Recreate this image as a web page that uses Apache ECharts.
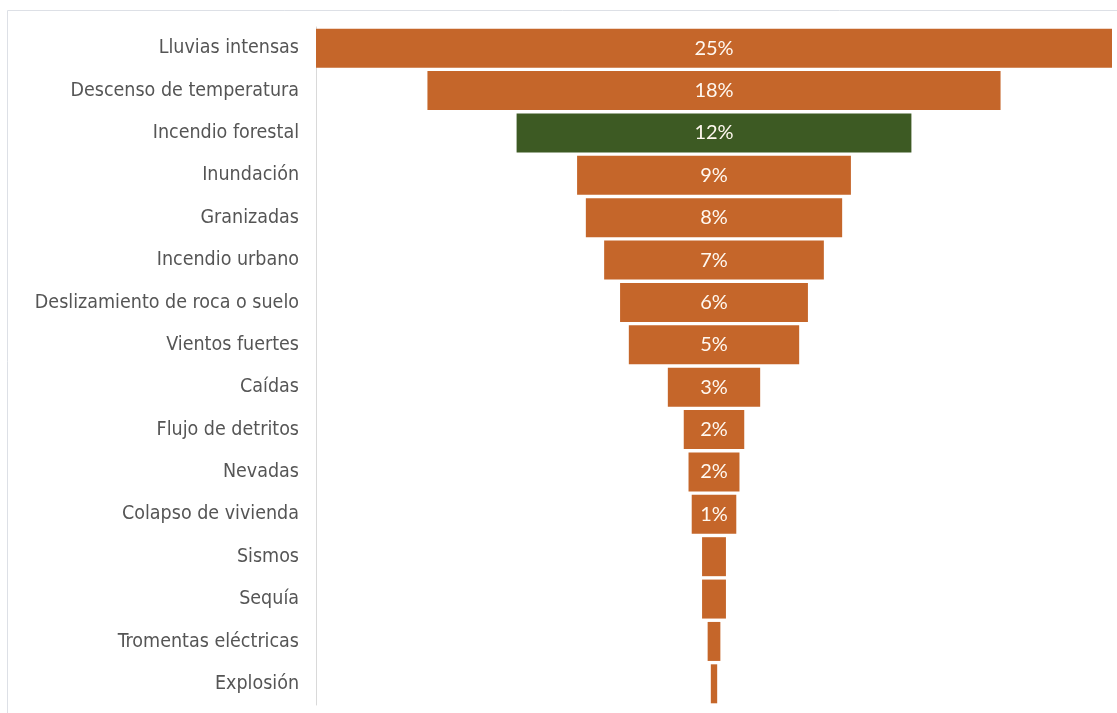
<!DOCTYPE html>
<html>
<head>
<meta charset="utf-8">
<script src="https://cdn.jsdelivr.net/npm/echarts@6/dist/echarts.min.js"></script>
<style>
  html, body { margin: 0; padding: 0; background: #fff; }
  #main { width: 1117px; height: 713px; }
</style>
</head>
<body>
<div id="main"></div>
<script>
const categories = [
  'Lluvias intensas', 'Descenso de temperatura', 'Incendio forestal', 'Inundación',
  'Granizadas', 'Incendio urbano', 'Deslizamiento de roca o suelo', 'Vientos fuertes',
  'Caídas', 'Flujo de detritos', 'Nevadas', 'Colapso de vivienda',
  'Sismos', 'Sequía', 'Tromentas eléctricas', 'Explosión'
]
const shares = [25, 18, 12.4, 8.6, 8.05, 6.9, 5.9, 5.35, 2.9, 1.9, 1.6, 1.4, 0.75, 0.75, 0.4, 0.2]
const shareLabels = ['25%', '18%', '12%', '9%', '8%', '7%', '6%', '5%', '3%', '2%', '2%', '1%', '', '', '', '']
const highlight = 'Incendio forestal'

const maxShare = 25
const orange = '#C5662A'
const green = '#3D5A23'

// invisible offset so each bar is centred
const offsets = shares.map((v) => (maxShare - v) / 2)

const myChart = echarts.init(document.getElementById('main'))
const option = {
  animation: false,
  graphic: [
    {
      type: 'polyline',
      shape: { points: [[7.5, 713], [7.5, 10.5], [1117, 10.5]] },
      style: { stroke: '#dde0e6', lineWidth: 1, fill: null },
    },
  ],
  grid: { left: 316, right: 5, top: 27, bottom: 8 },
  xAxis: { type: 'value', min: 0, max: maxShare, show: false },
  yAxis: {
    type: 'category',
    inverse: true,
    data: categories,
    axisTick: { show: false },
    axisLine: { show: true, lineStyle: { color: '#d9d9d9', width: 1 } },
    axisLabel: {
      color: '#555555',
      fontFamily: 'DejaVu Sans Condensed',
      fontSize: 19.5,
      margin: 17,
    },
  },
  series: [
    {
      type: 'bar',
      stack: 'f',
      data: offsets,
      itemStyle: { color: 'transparent' },
      silent: true,
    },
    {
      type: 'bar',
      stack: 'f',
      barCategoryGap: '8%',
      data: shares.map((v, i) => ({
        value: v,
        itemStyle: { color: categories[i] === highlight ? green : orange },
      })),
      label: {
        show: true,
        position: 'inside',
        color: '#fff8f0',
        fontFamily: 'Lato',
        fontSize: 20,
        formatter: (p) => shareLabels[p.dataIndex],
      },
    },
  ],
}
myChart.setOption(option)
</script>
</body>
</html>
